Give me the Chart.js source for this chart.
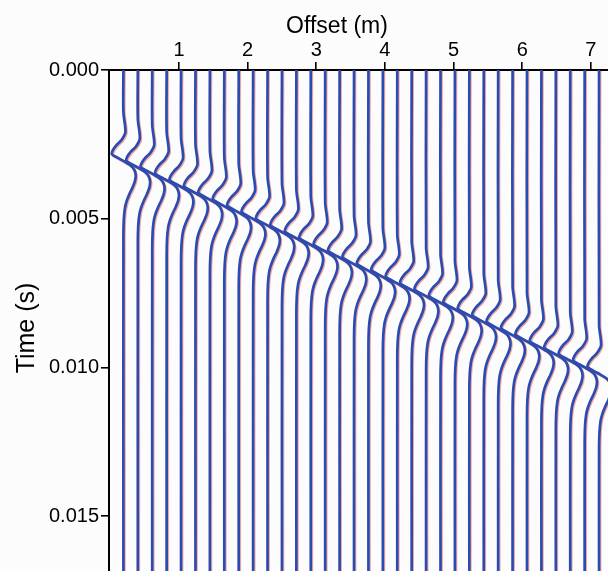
<!DOCTYPE html>
<html>
<head>
<meta charset="utf-8">
<script src="https://cdn.jsdelivr.net/npm/chart.js@4.4.1/dist/chart.umd.min.js"></script>
<style>
  html, body { margin: 0; padding: 0; background: #fcfcfd; }
  canvas { display: block; }
</style>
</head>
<body>
<canvas id="chart" width="608" height="571"></canvas>
<script>
// receiver positions (m)
const offsets = [0.19, 0.40, 0.61, 0.82, 1.03, 1.24, 1.45, 1.66, 1.87, 2.08, 2.29, 2.50,
                 2.71, 2.92, 3.13, 3.34, 3.55, 3.76, 3.97, 4.18, 4.39, 4.60, 4.81, 5.02,
                 5.23, 5.44, 5.65, 5.86, 6.07, 6.28, 6.49, 6.70, 6.91, 7.12];
// time of the trough of each trace (s)
const arrivals = [0.00283, 0.00305, 0.00326, 0.00348, 0.00370, 0.00391, 0.00413, 0.00435,
                  0.00456, 0.00478, 0.00500, 0.00522, 0.00543, 0.00565, 0.00587, 0.00608,
                  0.00630, 0.00652, 0.00673, 0.00695, 0.00717, 0.00738, 0.00760, 0.00782,
                  0.00803, 0.00825, 0.00847, 0.00869, 0.00890, 0.00912, 0.00934, 0.00955,
                  0.00977, 0.00999];
// wavelet, relative to the trough: time shift (s) and sideways swing (m)
const waveletTime  = [-0.001413, -0.000740, -0.000471, -0.000303, -0.000135, 0, 0.000135, 0.000269,
                      0.000404, 0.000538, 0.000706, 0.000908, 0.001110, 0.001345, 0.001581, 0.001816,
                      0.002186, 0.002758];
const waveletSwing = [0, 0.029, -0.029, -0.102, -0.153, -0.168, -0.073, 0.029,
                      0.117, 0.160, 0.179, 0.168, 0.135, 0.087, 0.047, 0.022,
                      0.006, 0];
const offsetTicks = [1, 2, 3, 4, 5, 6, 7];
const timeTicks = [0, 0.005, 0.010, 0.015];
const timeMax = 0.01685;

const datasets = offsets.map((x0, i) => {
  const pts = [{ x: x0, y: 0 }];
  waveletTime.forEach((dt, k) => pts.push({ x: x0 + waveletSwing[k], y: arrivals[i] + dt }));
  pts.push({ x: x0, y: timeMax });
  return {
    data: pts,
    borderColor: '#2a4cb0',
    borderWidth: 2.7,
    pointRadius: 0,
    tension: 0.3
  };
});

const axisFont = { family: '"Liberation Sans", Arial, sans-serif', size: 20 };

const decor = {
  id: 'decor',
  beforeDatasetsDraw(chart) {
    const ctx = chart.ctx;
    ctx.save();
    ctx.shadowColor = 'rgba(230, 60, 50, 0.45)';
    ctx.shadowOffsetX = 1;
    ctx.shadowOffsetY = 1.1;
    ctx.shadowBlur = 0;
  },
  afterDatasetsDraw(chart) {
    chart.ctx.restore();
  },
  afterDraw(chart) {
    const ctx = chart.ctx;
    ctx.save();
    ctx.fillStyle = '#000';
    ctx.textAlign = 'center';
    ctx.textBaseline = 'alphabetic';
    ctx.font = '23px "Liberation Sans", Arial, sans-serif';
    ctx.fillText('Offset (m)', 337, 33);
    ctx.translate(34, 328);
    ctx.rotate(-Math.PI / 2);
    ctx.font = '25px "Liberation Sans", Arial, sans-serif';
    ctx.fillText('Time (s)', 0, 0);
    ctx.restore();
  }
};

new Chart(document.getElementById('chart'), {
  type: 'line',
  data: { datasets },
  plugins: [decor],
  options: {
    responsive: false,
    animation: false,
    layout: { padding: 0 },
    plugins: { legend: { display: false }, tooltip: { enabled: false } },
    scales: {
      x: {
        type: 'linear',
        position: 'top',
        min: -0.02,
        max: 7.25,
        afterBuildTicks: s => { s.ticks = offsetTicks.map(v => ({ value: v })); },
        afterFit: s => { s.height = 70; s.paddingLeft = 0; s.paddingRight = 0; },
        ticks: { color: '#000', font: axisFont, padding: 0, maxRotation: 0 },
        grid: { drawOnChartArea: false, tickLength: 8, color: '#000', lineWidth: 1.6 },
        border: { color: '#000', width: 2 }
      },
      y: {
        type: 'linear',
        reverse: true,
        min: 0,
        max: timeMax,
        afterBuildTicks: s => { s.ticks = timeTicks.map(v => ({ value: v })); },
        afterFit: s => { s.width = 109; s.paddingTop = 0; s.paddingBottom = 0; },
        ticks: { color: '#000', font: axisFont, padding: 2, callback: v => v.toFixed(3) },
        grid: { drawOnChartArea: false, tickLength: 8, color: '#000', lineWidth: 1.6 },
        border: { color: '#000', width: 2 }
      }
    }
  }
});
</script>
</body>
</html>
